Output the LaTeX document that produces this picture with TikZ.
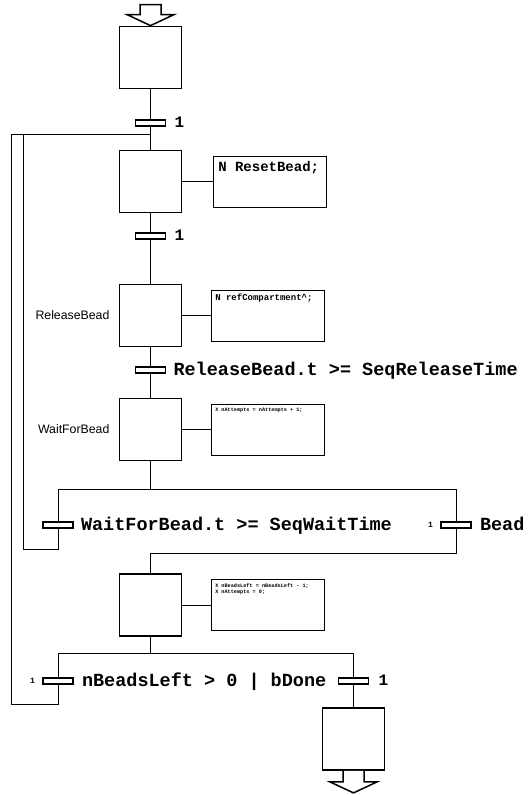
\documentclass[tikz,border=0pt]{standalone}
\usepackage{fontspec}
\setmainfont{Liberation Sans}
\newfontfamily\cour{Liberation Mono}
\usetikzlibrary{calc}
\begin{document}
\begin{tikzpicture}[x=1pt,y=-1pt,
  stepbox/.style={draw, line width=1.8pt, minimum width=62pt, minimum height=62pt, inner sep=0pt},
  actbox/.style={draw, line width=0.9pt, minimum width=113pt, minimum height=51pt, inner sep=0pt},
  trbar/.style={draw, line width=1.6pt, minimum width=30pt, minimum height=5.5pt, inner sep=0pt},
  conn/.style={line width=0.9pt},
  bigarrow/.style={draw, line width=1.5pt, fill=white, line join=miter},
  biglab/.style={font=\cour\bfseries\fontsize{18.5}{20}\selectfont, inner sep=0pt, anchor=base west},
  onelab/.style={font=\cour\bfseries\fontsize{16}{18}\selectfont, inner sep=0pt, anchor=base west},
  tinyone/.style={font=\cour\bfseries\fontsize{8}{9}\selectfont, inner sep=0pt, anchor=base east},
  steplab/.style={font=\fontsize{12.3}{14}\selectfont, inner sep=0pt, anchor=east},
  acttext/.style={inner sep=0pt, anchor=north west, align=left}]
\useasboundingbox (0,0) rectangle (529,795);

% steps
\node[stepbox] (s1) at (150.5,57.5) {};
\node[stepbox] (s2) at (150.5,181.5) {};
\node[stepbox] (s3) at (150.5,315.5) {};
\node[stepbox] (s4) at (150.5,429.5) {};
\node[stepbox] (s5) at (150.5,605) {};
\node[stepbox] (s6) at (353.5,739) {};

% step names
\node[steplab] (n3) at ($(s3.west)+(-9,0)$) {ReleaseBead};
\node[steplab] (n4) at ($(s4.west)+(-9,0)$) {WaitForBead};

% action boxes
\node[actbox] (a2) at (270,181.5) {};
\node[actbox] (a3) at (268,315.5) {};
\node[actbox] (a4) at (268,429.5) {};
\node[actbox] (a5) at (268,605) {};
\node[acttext, font=\cour\bfseries\fontsize{14}{16}\selectfont] (at2) at ($(a2.north west)+(5,6)$) {N ResetBead;};
\node[acttext, font=\cour\bfseries\fontsize{9}{10}\selectfont] (at3) at ($(a3.north west)+(4,4)$) {N refCompartment\textasciicircum;};
\node[acttext, font=\cour\bfseries\fontsize{5.2}{6.5}\selectfont] (at4) at ($(a4.north west)+(4,4)$) {X nAttempts = nAttempts + 1;};
\node[acttext, font=\cour\bfseries\fontsize{5.2}{6.5}\selectfont] (at5) at ($(a5.north west)+(4,4)$) {X nBeadsLeft = nBeadsLeft - 1;\\X nAttempts = 0;};

\draw[conn] (s2.east) -- (a2.west);
\draw[conn] (s3.east) -- (a3.west);
\draw[conn] (s4.east) -- (a4.west);
\draw[conn] (s5.east) -- (a5.west);

% transitions
\node[trbar] (t1) at (150.5,123) {};
\node[trbar] (t2) at (150.5,236) {};
\node[trbar] (t3) at (150.5,370) {};
\node[trbar] (t4l) at (58,525) {};
\node[trbar] (t4r) at (456,525) {};
\node[trbar] (t5l) at (58,681) {};
\node[trbar] (t5r) at (353.5,681) {};

% transition labels
\node[onelab] (l1) at ($(t1.east)+(8,4.8)$) {1};
\node[onelab] (l2) at ($(t2.east)+(8,4.8)$) {1};
\node[biglab] (l3) at ($(t3.east)+(7,5.3)$) {ReleaseBead.t >= SeqReleaseTime};
\node[biglab] (l4l) at ($(t4l.east)+(7,5.3)$) {WaitForBead.t >= SeqWaitTime};
\node[tinyone] (l4o) at ($(t4r.west)+(-7,2.5)$) {1};
\node[biglab] (l4r) at ($(t4r.east)+(8,5.3)$) {Bead};
\node[tinyone] (l5o) at ($(t5l.west)+(-7,2.5)$) {1};
\node[biglab] (l5l) at ($(t5l.east)+(8,5.3)$) {nBeadsLeft > 0 | bDone};
\node[onelab] (l5r) at ($(t5r.east)+(9,4.8)$) {1};

% coordinates
\coordinate (top) at (150.5,134);
\coordinate (lo) at (11,134);
\coordinate (li) at (23,134);
\coordinate (d1) at (150.5,489);
\coordinate (d1l) at (58,489);
\coordinate (d1r) at (456,489);
\coordinate (j1) at (456,553);
\coordinate (j2) at (150.5,553);
\coordinate (r1) at (58,549);
\coordinate (r1b) at (23,549);
\coordinate (d2) at (150.5,653);
\coordinate (d2l) at (58,653);
\coordinate (d2r) at (353.5,653);
\coordinate (r2) at (58,704);
\coordinate (r2b) at (11,704);

% flow lines
\draw[conn] (s1.south) -- (t1.north);
\draw[conn] (t1.south) -- (s2.north);
\draw[conn] (s2.south) -- (t2.north);
\draw[conn] (t2.south) -- (s3.north);
\draw[conn] (s3.south) -- (t3.north);
\draw[conn] (t3.south) -- (s4.north);
\draw[conn] (s4.south) -- (d1);
\draw[conn] (d1l) -- (d1r);
\draw[conn] (d1l) -- (t4l.north);
\draw[conn] (d1r) -- (t4r.north);
\draw[conn] (t4l.south) -- (r1) -- (r1b) -- (li);
\draw[conn] (lo) -- (top);
\draw[conn] (t4r.south) -- (j1) -- (j2) -- (s5.north);
\draw[conn] (s5.south) -- (d2);
\draw[conn] (d2l) -- (d2r);
\draw[conn] (d2l) -- (t5l.north);
\draw[conn] (d2r) -- (t5r.north);
\draw[conn] (t5l.south) -- (r2) -- (r2b) -- (lo);
\draw[conn] (t5r.south) -- (s6.north);

% initial and final arrows
\begin{scope}[shift={(s1.north)}]
\draw[bigarrow] (-10.5,-21) -- (10.5,-21) -- (10.5,-11) -- (23.5,-11) -- (0,0) -- (-23.5,-11) -- (-10.5,-11) -- cycle;
\end{scope}
\begin{scope}[shift={(s6.south)}]
\draw[bigarrow] (-10.5,0) -- (-10.5,11) -- (-23.5,11) -- (0,22) -- (23.5,11) -- (10.5,11) -- (10.5,0);
\end{scope}
\end{tikzpicture}
\end{document}
